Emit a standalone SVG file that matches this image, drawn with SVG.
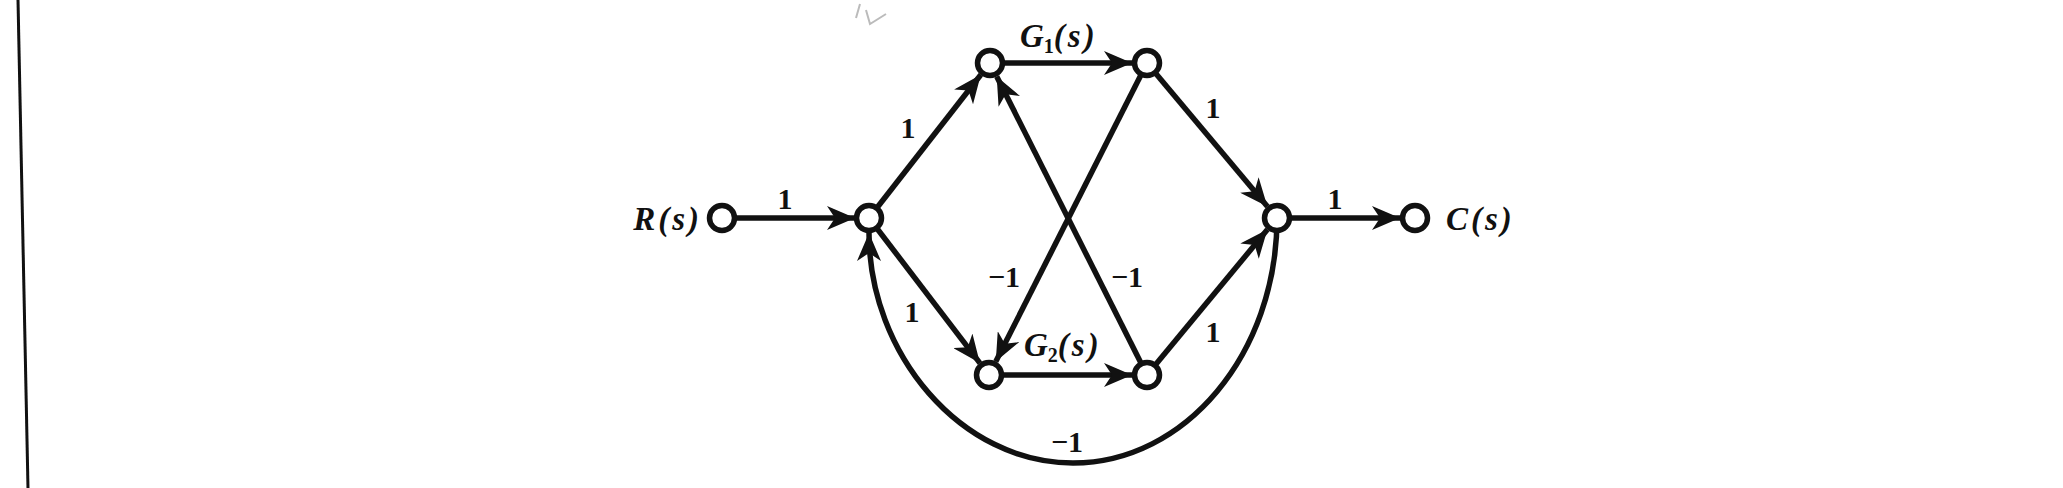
<svg xmlns="http://www.w3.org/2000/svg" width="2063" height="488" viewBox="0 0 2063 488">
<style>
.edge{fill:none;stroke:#111;stroke-width:5.5;marker-end:url(#arr)}
.node{fill:#fff;stroke:#111;stroke-width:5.5}
.num{font-family:"Liberation Serif",serif;font-weight:bold;font-size:30px;fill:#111;text-anchor:middle}
.lbl{font-family:"Liberation Serif",serif;font-style:italic;font-weight:bold;font-size:33px;fill:#111}
.sub{font-size:20px;font-style:normal}
</style>
<defs>
<marker id="arr" markerUnits="userSpaceOnUse" markerWidth="30" markerHeight="24" refX="28" refY="12" orient="auto">
<path d="M0,0 L28,12 L0,24 L8,12 Z" fill="#111"/>
</marker>
</defs>
<rect width="2063" height="488" fill="#fff"/>
<line x1="18" y1="0" x2="28" y2="488" stroke="#111" stroke-width="3"/>
<path d="M856,18 L860,4 M866,10 L870,24 L886,14" fill="none" stroke="#bbb" stroke-width="2"/>
<g id="connectors">
<line class="edge" x1="722" y1="218" x2="855" y2="218"/>
<line class="edge" x1="869" y1="218" x2="980.8" y2="74.8"/>
<line class="edge" x1="869" y1="218" x2="979.9" y2="363.1"/>
<line class="edge" x1="990" y1="63" x2="1132" y2="63"/>
<line class="edge" x1="989" y1="375" x2="1132" y2="375"/>
<line class="edge" x1="1147" y1="63" x2="1267.4" y2="206.5"/>
<line class="edge" x1="1147" y1="375" x2="1267.4" y2="229.6"/>
<line class="edge" x1="1147" y1="63" x2="995.8" y2="361.6"/>
<line class="edge" x1="1147" y1="375" x2="996.7" y2="76.4"/>
<line class="edge" x1="1277" y1="218" x2="1400" y2="218"/>
<path class="edge" d="M1277,218 C1277,354 1185,463 1073,463 C961,463 869,354 869,233"/>
</g>
<g id="labels">
<text class="num" x="785" y="209">1</text>
<text class="num" x="908" y="138">1</text>
<text class="num" x="912" y="322">1</text>
<text class="num" x="1213" y="118">1</text>
<text class="num" x="1213" y="342">1</text>
<text class="num" x="1004" y="287">−1</text>
<text class="num" x="1127" y="287">−1</text>
<text class="num" x="1067" y="452">−1</text>
<text class="num" x="1335" y="209">1</text>
<text class="lbl" x="1020" y="47">G<tspan class="sub" dy="6">1</tspan><tspan dy="-6" letter-spacing="3">(s)</tspan></text>
<text class="lbl" x="1024" y="356">G<tspan class="sub" dy="6">2</tspan><tspan dy="-6" letter-spacing="3">(s)</tspan></text>
</g>
<g id="node-R">
<circle class="node" cx="722" cy="218" r="12.5"/>
<text class="lbl" x="702" y="230" text-anchor="end" letter-spacing="3">R(s)</text>
</g>
<g id="node-1"><circle class="node" cx="869" cy="218" r="12.5"/></g>
<g id="node-A"><circle class="node" cx="990" cy="63" r="12.5"/></g>
<g id="node-B"><circle class="node" cx="1147" cy="63" r="12.5"/></g>
<g id="node-C"><circle class="node" cx="989" cy="375" r="12.5"/></g>
<g id="node-D"><circle class="node" cx="1147" cy="375" r="12.5"/></g>
<g id="node-2"><circle class="node" cx="1277" cy="218" r="12.5"/></g>
<g id="node-Cs">
<circle class="node" cx="1415" cy="218" r="12.5"/>
<text class="lbl" x="1446" y="230" letter-spacing="3">C(s)</text>
</g>
</svg>
